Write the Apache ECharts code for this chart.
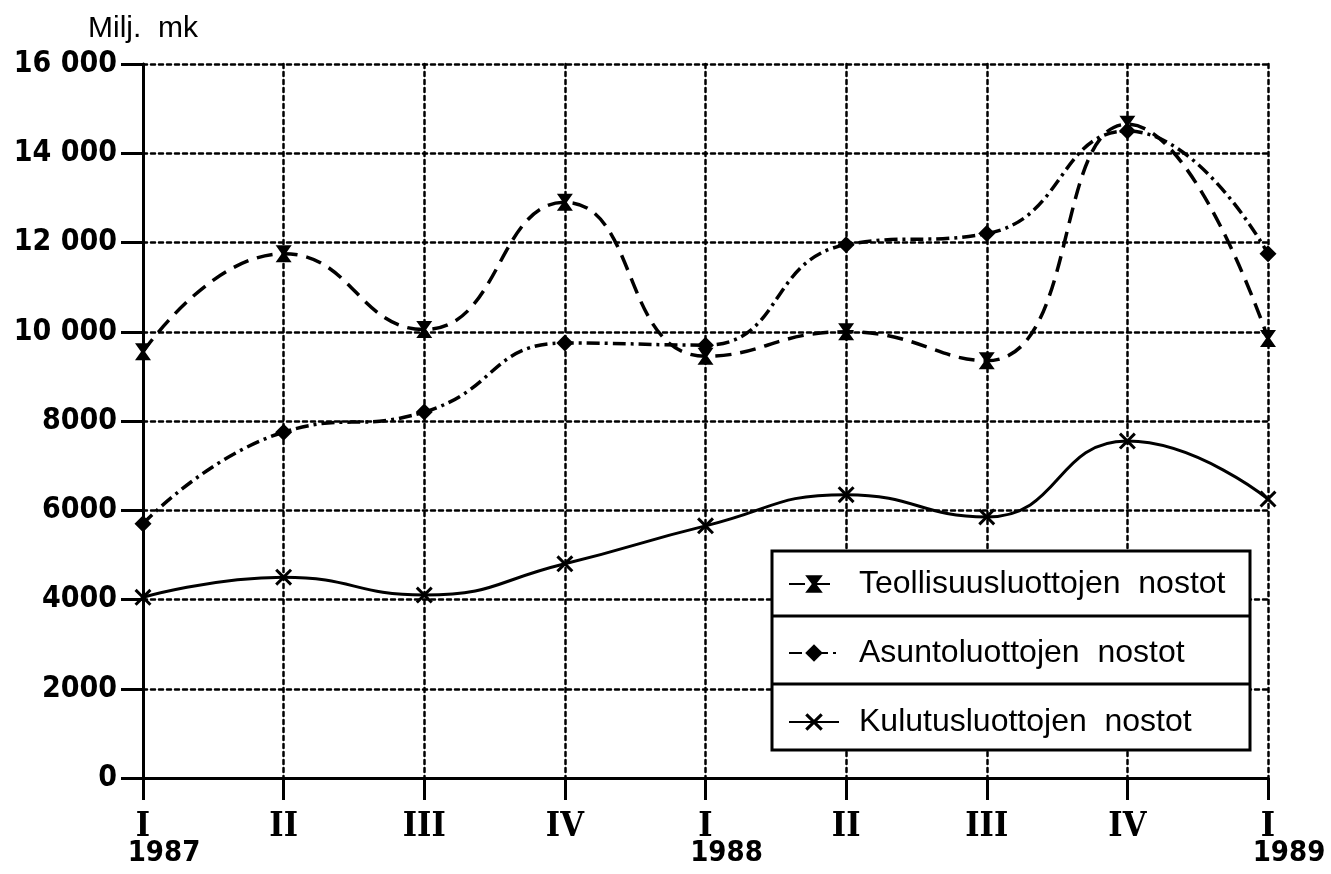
<!DOCTYPE html>
<html>
<head>
<meta charset="utf-8">
<script src="https://cdn.jsdelivr.net/npm/echarts@6/dist/echarts.min.js"></script>
<style>
html,body{margin:0;padding:0;background:#fff;}
#chart{width:1331px;height:874px;}
</style>
</head>
<body>
<div id="chart"></div>
<script>
const categories = ['I 1987','II 1987','III 1987','IV 1987','I 1988','II 1988','III 1988','IV 1988','I 1989'];
const quarterLabels = ['I','II','III','IV','I','II','III','IV','I'];
const yearLabels = ['1987','','','','1988','','','','1989'];
const yTickLabels = ['0','2000','4000','6000','8000','10 000','12 000','14 000','16 000'];

const teollisuus = [9550, 11750, 10050, 12900, 9450, 10000, 9350, 14650, 9850];
const asunto = [5700, 7750, 8200, 9750, 9700, 11950, 12200, 14500, 11750];
const kulutus = [4050, 4500, 4100, 4800, 5650, 6350, 5850, 7550, 6250];

const seriesNames = ['Teollisuusluottojen  nostot', 'Asuntoluottojen  nostot', 'Kulutusluottojen  nostot'];

const narrow = "'Liberation Sans Narrow', 'DejaVu Sans Condensed', sans-serif";
const hourglass = 'path://M0,0 L12,0 L7.5,6 L12,12 L0,12 L4.5,6 Z';
const xMark = 'path://M0,1.5 L1.5,0 L6,4.5 L10.5,0 L12,1.5 L7.5,6 L12,10.5 L10.5,12 L6,7.5 L1.5,12 L0,10.5 L4.5,6 Z';

const chart = echarts.init(document.getElementById('chart'), null, {renderer: 'canvas'});

const gridDash = {color: '#000', width: 2.5, type: [4, 4], cap: 'round'};

chart.setOption({
  animation: false,
  backgroundColor: '#fff',
  grid: {left: 143, right: 63, top: 64, bottom: 96, containLabel: false},
  xAxis: {
    type: 'category',
    data: categories,
    boundaryGap: false,
    axisLine: {lineStyle: {color: '#000', width: 3}},
    axisTick: {show: true, inside: false, length: 22, alignWithLabel: true, lineStyle: {color: '#000', width: 3}},
    splitLine: {show: true, lineStyle: gridDash},
    axisLabel: {
      margin: 36,
      interval: 0,
      formatter: function (v, i) {
        return yearLabels[i] ? '{q|' + quarterLabels[i] + '}\n{y|' + yearLabels[i] + '}' : '{q|' + quarterLabels[i] + '}';
      },
      rich: {
        q: {fontFamily: "'DejaVu Serif Condensed', 'DejaVu Serif', serif", fontWeight: 'bold', fontSize: 34, lineHeight: 27, color: '#000'},
        y: {fontFamily: narrow, fontWeight: 'bold', fontSize: 29, lineHeight: 24, color: '#000', padding: [0, 0, 0, 42]}
      }
    }
  },
  yAxis: {
    type: 'value',
    min: 0, max: 16000, interval: 2000,
    name: 'Milj.  mk',
    nameLocation: 'end',
    nameGap: 20,
    nameTextStyle: {fontFamily: "'Liberation Sans', Arial, sans-serif", fontSize: 30, color: '#000', align: 'center'},
    axisLine: {show: true, lineStyle: {color: '#000', width: 3}},
    axisTick: {show: true, inside: false, length: 22, lineStyle: {color: '#000', width: 3}},
    splitLine: {show: true, lineStyle: gridDash},
    axisLabel: {
      margin: 26,
      fontFamily: narrow, fontWeight: 'bold', fontSize: 30, color: '#000',
      formatter: function (v) { return yTickLabels[Math.round(v / 2000)]; }
    }
  },
  legend: {
    orient: 'vertical',
    left: 788, top: 568,
    padding: 0,
    itemGap: 37,
    itemWidth: 50, itemHeight: 22,
    z: 200,
    data: seriesNames,
    textStyle: {fontFamily: "'Liberation Sans', Arial, sans-serif", fontSize: 32, lineHeight: 30, color: '#000', padding: [0, 0, 0, 15]}
  },
  graphic: [
    {type: 'rect', z: 100, shape: {x: 772, y: 551, width: 478, height: 199}, style: {fill: '#fff', stroke: '#000', lineWidth: 3}},
    {type: 'line', z: 101, shape: {x1: 772, y1: 616, x2: 1250, y2: 616}, style: {stroke: '#000', lineWidth: 3}},
    {type: 'line', z: 101, shape: {x1: 772, y1: 684, x2: 1250, y2: 684}, style: {stroke: '#000', lineWidth: 3}}
  ],
  series: [
    {
      name: seriesNames[0], type: 'line', data: teollisuus, smooth: 0.5,
      symbol: hourglass, symbolSize: [16, 17], showAllSymbol: true, z: 4,
      lineStyle: {color: '#000', width: 3.5, type: [16, 9]},
      itemStyle: {color: '#000'}
    },
    {
      name: seriesNames[1], type: 'line', data: asunto, smooth: 0.5,
      symbol: 'diamond', symbolSize: [17, 17], showAllSymbol: true, z: 4,
      lineStyle: {color: '#000', width: 3.5, type: [13, 5, 3, 5]},
      itemStyle: {color: '#000'}
    },
    {
      name: seriesNames[2], type: 'line', data: kulutus, smooth: 0.5,
      symbol: xMark, symbolSize: [17, 17], showAllSymbol: true, z: 4,
      lineStyle: {color: '#000', width: 3},
      itemStyle: {color: '#000'}
    }
  ]
});
</script>
</body>
</html>
